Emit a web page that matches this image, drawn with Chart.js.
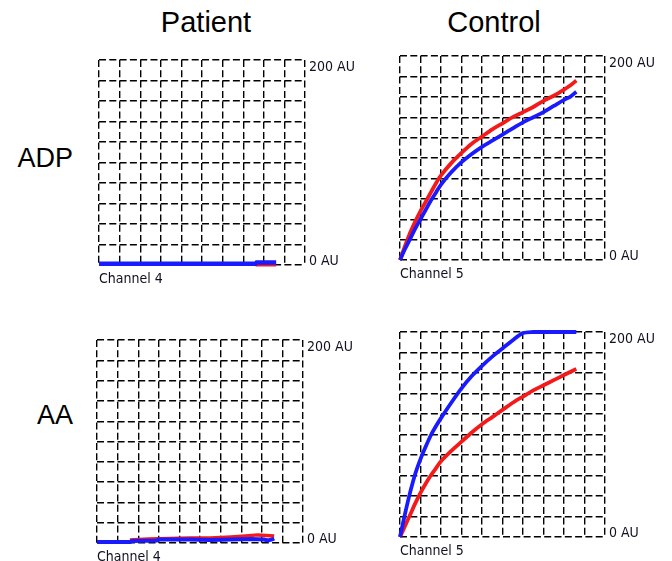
<!DOCTYPE html>
<html>
<head>
<meta charset="utf-8">
<script src="https://cdn.jsdelivr.net/npm/chart.js@4.4.1/dist/chart.umd.min.js"></script>
<style>
  body { margin: 0; background: #fff; }
  #wrap { position: relative; width: 672px; height: 561px; overflow: hidden;
          font-family: 'Liberation Sans', Arial, sans-serif; color: #000; }
  #wrap canvas { position: absolute; }
  .head { position: absolute; font-size: 29px; line-height: 1; transform: translate(-50%, -50%); white-space: nowrap; }
  .row  { position: absolute; font-size: 27px; line-height: 1; transform: translate(-100%, -50%); white-space: nowrap; }
</style>
</head>
<body>
<div id="wrap">
  <canvas id="c-adp-patient" width="276" height="240" style="left:89px;top:50px"></canvas>
  <canvas id="c-adp-control" width="275" height="239" style="left:390px;top:46px"></canvas>
  <canvas id="c-aa-patient" width="276" height="238" style="left:87px;top:330px"></canvas>
  <canvas id="c-aa-control" width="275" height="240" style="left:390px;top:322px"></canvas>
</div>
<script>
// ---- Labels ----
const columnTitles = ['Patient', 'Control'];
const rowTitles = ['ADP', 'AA'];
const channelNames = ['Channel 4', 'Channel 5', 'Channel 4', 'Channel 5'];
const yTickValues = [0, 200];
const yTickText = ['0 AU', '200 AU'];

// ---- Data (time in grid units, aggregation in AU) ----
// ADP, patient (channel 4)
const adpPatientRedT = [7.6, 8.6];
const adpPatientRed = [0, 0];
const adpPatientBlueT = [0, 7.6, 7.65, 8.6];
const adpPatientBlue = [1.3, 1.3, 2.4, 2.4];

// ADP, control (channel 5)
const adpControlT = [0, 0.25, 0.5, 0.75, 1, 1.25, 1.5, 1.75, 2, 2.5, 3, 3.5, 4, 4.5, 5, 5.5, 6, 6.5, 7, 7.5, 8, 8.3, 8.6];
const adpControlRed = [0, 14, 27, 38, 48, 57, 66, 75, 83, 95, 105, 114, 121, 128, 134, 140, 145, 150, 156, 161, 167, 171, 176];
const adpControlBlue = [0, 11, 21, 31, 40, 49, 58, 66, 74, 86, 96, 104, 111, 117, 123, 129, 135, 140, 145, 151, 157, 160, 165];

// AA, patient (channel 4)
const aaPatientRedT = [1.6, 2.5, 3.5, 4.5, 5.5, 6.5, 7.2, 7.8, 8.2, 8.6];
const aaPatientRed = [3, 4, 4.5, 5, 5, 6, 7, 8, 7.5, 7];
const aaPatientBlueT = [0, 1.6, 1.7, 2.9, 3.0, 4.5, 5.5, 6.5, 7.5, 8.1, 8.3, 8.5, 8.6];
const aaPatientBlue = [1, 1, 2, 2.5, 3.5, 3.5, 3, 3.5, 4, 3.5, 2.5, 3.5, 4.5];

// AA, control (channel 5)
const aaControlT = [0, 0.25, 0.5, 0.75, 1, 1.25, 1.5, 1.75, 2, 2.5, 3, 3.5, 4, 4.5, 5, 5.5, 6, 6.5, 7, 7.5, 8, 8.3, 8.6];
const aaControlRed = [0, 11, 22, 33, 43, 52, 60, 67, 74, 84, 93, 102, 110, 117, 124, 131, 137, 143, 148, 153, 158, 161, 164];
const aaControlBlue = [0, 23, 44, 62, 76, 88, 99, 108, 116, 131, 145, 157, 167, 176, 184, 192, 199, 200, 200, 200, 200, 200, 200];

// ---- Helpers ----
const RED = '#f41a1a';
const BLUE = '#1a1aff';
const SMALL_FONT = "14px 'DejaVu Sans Condensed', 'Liberation Sans', sans-serif";

function points(t, v) {
    return t.map((x, i) => ({ x: x, y: v[i] }));
}

// draws "0 AU" / "200 AU" and the channel name next to the grid
const sideLabels = {
    id: 'sideLabels',
    afterDraw(chart) {
        const { ctx, chartArea, scales } = chart;
        ctx.save();
        ctx.font = SMALL_FONT;
        ctx.fillStyle = '#101020';
        ctx.textBaseline = 'alphabetic';
        ctx.textAlign = 'left';
        yTickValues.forEach((v, i) => {
            const y = scales.y.getPixelForValue(v);
            const shift = i === yTickValues.length - 1 ? 11 : 0;
            ctx.fillText(yTickText[i], chartArea.right + 4, y + shift);
        });
        ctx.fillText(chart.options.plugins.sideLabels.channel, chartArea.left, chartArea.bottom + 18);
        ctx.restore();
    }
};

function makePanel(id, channel, red, blue, redWidth, blueWidth, tension) {
    const gridStyle = { color: '#000', lineWidth: 1.4, drawTicks: false };
    const borderStyle = { display: false, dash: [7, 3.3], dashOffset: 0 };
    return new Chart(document.getElementById(id), {
        type: 'line',
        data: {
            datasets: [
                { data: blue, borderColor: BLUE, borderWidth: blueWidth, tension: tension, clip: 6 },
                { data: red, borderColor: RED, borderWidth: redWidth, tension: tension, clip: 6 }
            ]
        },
        options: {
            responsive: false,
            animation: false,
            events: [],
            layout: { padding: { left: 10, top: 10, right: 60, bottom: 25 } },
            elements: { point: { radius: 0 } },
            plugins: {
                legend: { display: false },
                tooltip: { enabled: false },
                sideLabels: { channel: channel }
            },
            scales: {
                x: {
                    type: 'linear', min: 0, max: 10,
                    ticks: { display: false, stepSize: 1, autoSkip: false },
                    grid: gridStyle, border: borderStyle,
                    afterFit: (s) => { s.height = 0; }
                },
                y: {
                    type: 'linear', position: 'right', min: 0, max: 200,
                    ticks: { display: false, stepSize: 20, autoSkip: false },
                    grid: gridStyle, border: borderStyle,
                    afterFit: (s) => { s.width = 0; }
                }
            }
        },
        plugins: [sideLabels]
    });
}

// ---- Headings ----
const wrap = document.getElementById('wrap');
const headX = [206, 494];
columnTitles.forEach((t, i) => {
    const d = document.createElement('div');
    d.className = 'head';
    d.textContent = t;
    d.style.left = headX[i] + 'px';
    d.style.top = '22px';
    wrap.appendChild(d);
});
const rowY = [158, 415];
rowTitles.forEach((t, i) => {
    const d = document.createElement('div');
    d.className = 'row';
    d.textContent = t;
    d.style.left = '73px';
    d.style.top = rowY[i] + 'px';
    wrap.appendChild(d);
});

// ---- Panels ----
makePanel('c-adp-patient', channelNames[0],
    points(adpPatientRedT, adpPatientRed), points(adpPatientBlueT, adpPatientBlue), 3, 4.5, 0);
makePanel('c-adp-control', channelNames[1],
    points(adpControlT, adpControlRed), points(adpControlT, adpControlBlue), 3.8, 3.8, 0.3);
makePanel('c-aa-patient', channelNames[2],
    points(aaPatientRedT, aaPatientRed), points(aaPatientBlueT, aaPatientBlue), 3.5, 4, 0);
makePanel('c-aa-control', channelNames[3],
    points(aaControlT, aaControlRed), points(aaControlT, aaControlBlue), 3.8, 3.8, 0.3);
</script>
</body>
</html>
